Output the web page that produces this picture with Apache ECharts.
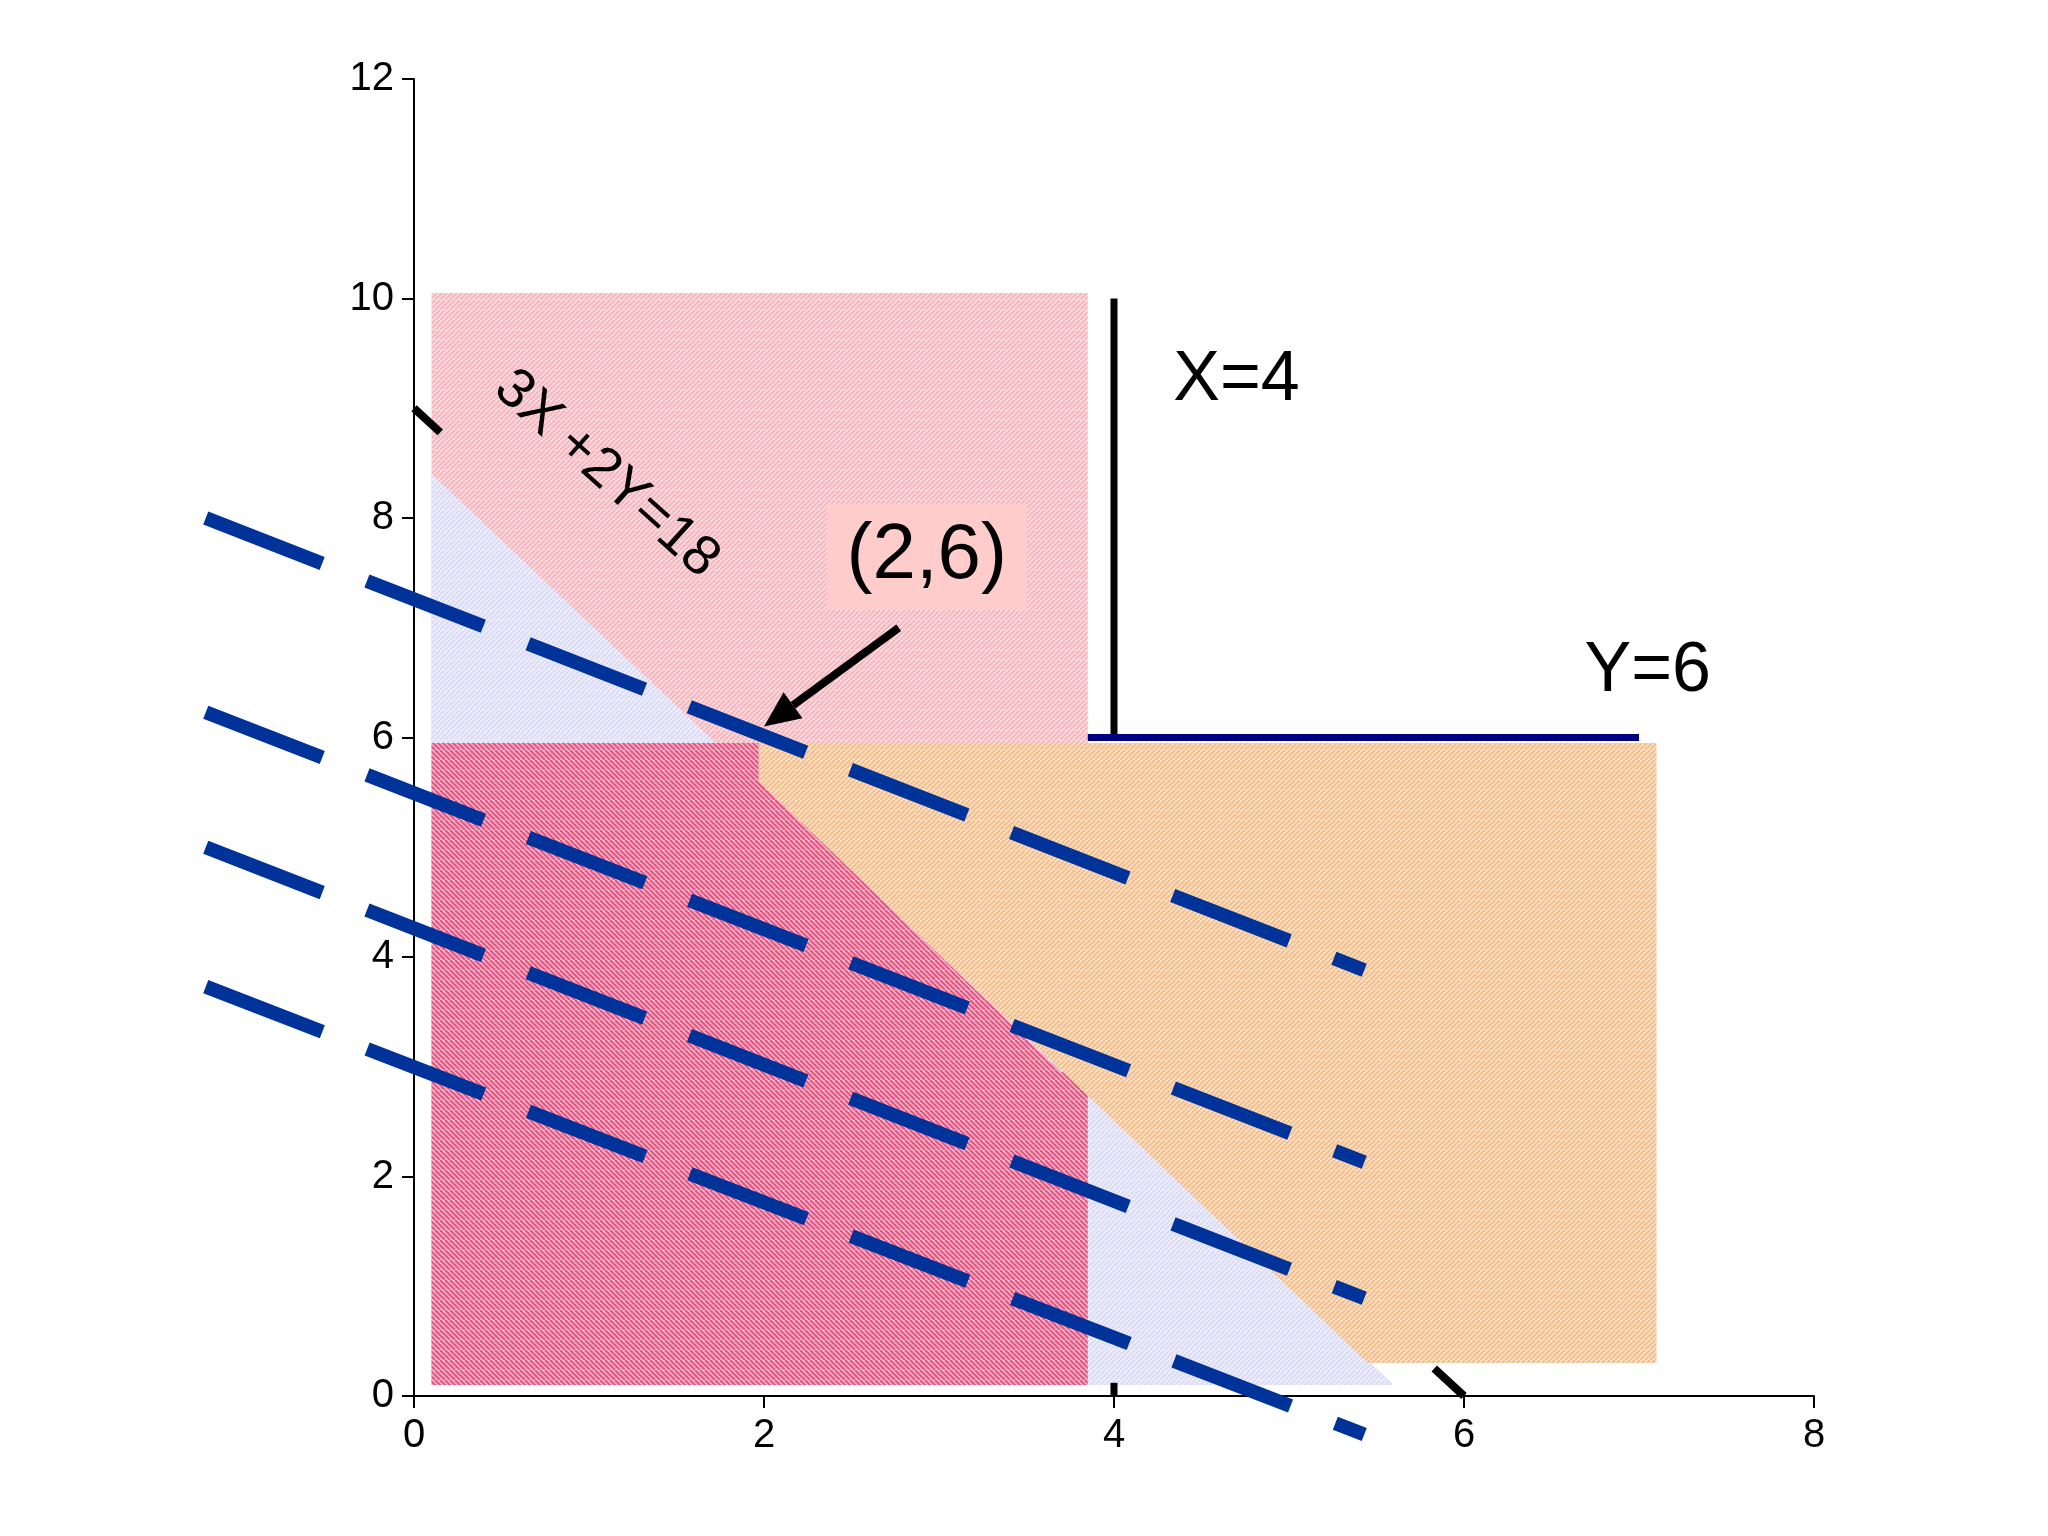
<!DOCTYPE html>
<html>
<head>
<meta charset="utf-8">
<script src="https://cdn.jsdelivr.net/npm/echarts@6/dist/echarts.min.js"></script>
<style>html,body{margin:0;background:#fff}#main{width:2048px;height:1536px}</style>
</head>
<body>
<div id="main"></div>
<script>
// regions (x,y corners)
var lightPinkRegion = [[0.1, 0.1], [0.1, 10.05], [3.85, 10.05], [3.85, 0.1]];
var lavenderRegion = [[0.1, 8.4], [0.1, 0.1], [5.6, 0.1]];
var darkPinkRegion = [[0.1, 0.1], [0.1, 5.95], [1.97, 5.95], [1.97, 5.6], [3.7, 2.95], [3.85, 2.95], [3.85, 0.1]];
var orangeRegion = [[1.97, 5.95], [7.1, 5.95], [7.1, 0.3], [5.45, 0.3], [1.97, 5.6]];
// constraint lines
var constraintEnds = [[[0, 9], [0.15, 8.78]], [[5.83, 0.25], [6, 0]]];
var lineX4 = [[4, 6], [4, 10]];
var lineX4Foot = [[4, 0], [4, 0.12]];
var lineY6 = [[3.85, 6], [7, 6]];
// iso-profit dashed lines
var isoLines = [
  [[-1.19, 8.0], [5.43, 3.88]],
  [[-1.19, 6.23], [5.43, 2.13]],
  [[-1.19, 5.0], [5.43, 0.89]],
  [[-1.19, 3.73], [5.43, -0.35]]
];
var arrowLine = [[2.77, 7.0], [2.0, 6.1]];

function hatch(bg, fg, dir) {
  var c = document.createElement('canvas');
  c.width = 10; c.height = 10;
  var g = c.getContext('2d');
  g.fillStyle = bg; g.fillRect(0, 0, 10, 10);
  g.strokeStyle = fg; g.lineWidth = 2.5;
  for (var k = -10; k <= 20; k += 5) {
    g.beginPath();
    if (dir > 0) { g.moveTo(k, 10); g.lineTo(k + 10, 0); }
    else { g.moveTo(k, 0); g.lineTo(k + 10, 10); }
    g.stroke();
  }
  return { image: c, repeat: 'repeat' };
}

function poly(pts, fill, z) {
  return {
    type: 'custom', z: z, silent: true, data: [0],
    renderItem: function (params, api) {
      return { type: 'polygon', shape: { points: pts.map(function (p) { return api.coord(p); }) }, style: { fill: fill } };
    }
  };
}
function seg(pts, color, width, z, dash) {
  return {
    type: 'custom', z: z, silent: true, data: [0],
    renderItem: function (params, api) {
      return { type: 'polyline', shape: { points: pts.map(function (p) { return api.coord(p); }) },
        style: { stroke: color, lineWidth: width, lineDash: dash || null, lineCap: 'butt', fill: null } };
    }
  };
}
function arrow(pts, z) {
  return {
    type: 'custom', z: z, silent: true, data: [0],
    renderItem: function (params, api) {
      var a = api.coord(pts[0]), b = api.coord(pts[1]);
      var ang = Math.atan2(b[1] - a[1], b[0] - a[0]);
      var L = 36, W = 16;
      var base = [b[0] - L * Math.cos(ang), b[1] - L * Math.sin(ang)];
      var nx = -Math.sin(ang) * W, ny = Math.cos(ang) * W;
      return { type: 'group', children: [
        { type: 'line', shape: { x1: a[0], y1: a[1], x2: base[0], y2: base[1] }, style: { stroke: '#000', lineWidth: 8 } },
        { type: 'polygon', shape: { points: [b, [base[0] + nx, base[1] + ny], [base[0] - nx, base[1] - ny]] }, style: { fill: '#000' } }
      ] };
    }
  };
}
function text(pos, str, size, rot, bg) {
  return {
    type: 'custom', z: 20, silent: true, data: [0],
    renderItem: function (params, api) {
      var p = api.coord(pos);
      return { type: 'text', x: p[0], y: p[1], rotation: (rot || 0) * Math.PI / 180,
        style: { text: str, fontSize: size, fontFamily: 'Liberation Sans', fill: '#000',
          align: 'center', verticalAlign: 'middle',
          backgroundColor: bg || null, padding: bg ? [14, 20, 14, 20] : 0 } };
    }
  };
}

var chart = echarts.init(document.getElementById('main'));
var series = [
  poly(lightPinkRegion, hatch('#fde8ea', '#f6b8c0', 1), 1),
  poly(lavenderRegion, hatch('#f4f4fc', '#dcdcf6', 1), 2),
  poly(darkPinkRegion, hatch('#fbd0dc', '#e85a86', -1), 3),
  poly(orangeRegion, hatch('#fdecd8', '#f4c090', 1), 3),
  seg(lineX4, '#000', 7, 5),
  seg(lineX4Foot, '#000', 7, 5),
  seg(lineY6, '#000080', 7, 5)
];
constraintEnds.forEach(function (s) { series.push(seg(s, '#000', 8, 5)); });
isoLines.forEach(function (s) { series.push(seg(s, '#003399', 14, 10, [125, 48])); });
series.push(arrow(arrowLine, 12));
series.push(text([4.7, 9.25], 'X=4', 70));
series.push(text([7.05, 6.6], 'Y=6', 70));
series.push(text([1.1, 8.4], '3X +2Y=18', 56, -42));
series.push(text([2.93, 7.65], '(2,6)', 78, 0, '#ffcccc'));

chart.setOption({
  animation: false,
  grid: { left: 414, right: 234, top: 79, bottom: 140 },
  xAxis: { type: 'value', min: 0, max: 8, interval: 2, splitLine: { show: false },
    axisLine: { lineStyle: { color: '#000', width: 2 } }, axisTick: { length: 12, lineStyle: { color: '#000', width: 2 } },
    axisLabel: { fontSize: 40, color: '#000', margin: 20, fontFamily: 'Liberation Sans' } },
  yAxis: { type: 'value', min: 0, max: 12, interval: 2, splitLine: { show: false },
    axisLine: { show: true, lineStyle: { color: '#000', width: 2 } }, axisTick: { show: true, length: 12, lineStyle: { color: '#000', width: 2 } },
    axisLabel: { fontSize: 40, color: '#000', margin: 20, fontFamily: 'Liberation Sans' } },
  series: series
});
</script>
</body>
</html>
